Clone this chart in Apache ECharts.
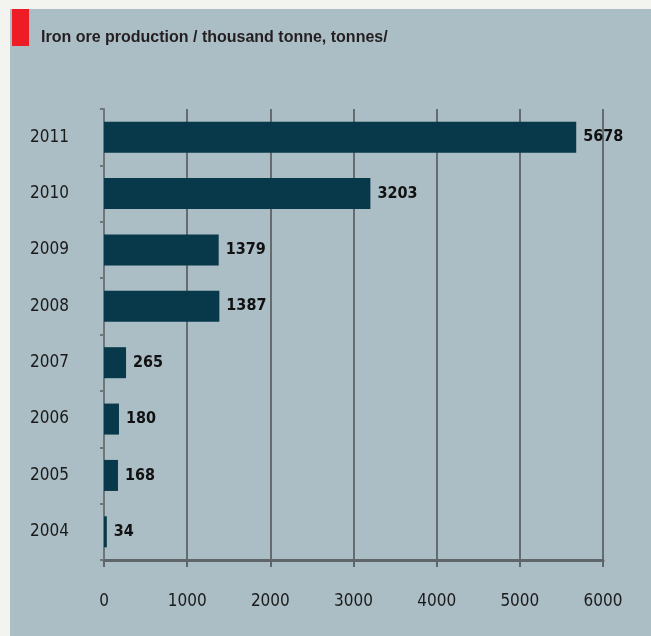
<!DOCTYPE html>
<html>
<head>
<meta charset="utf-8">
<script src="https://cdn.jsdelivr.net/npm/echarts@6/dist/echarts.min.js"></script>
<style>
html,body{margin:0;padding:0;background:#f3f3ef;}
#c{width:651px;height:636px;}
</style>
</head>
<body>
<div id="c"></div>
<script>
const titleText = 'Iron ore production / thousand tonne, tonnes/';
const years = ['2004','2005','2006','2007','2008','2009','2010','2011'];
const production = [34,168,180,265,1387,1379,3203,5678];
const xTicks = {min:0, max:6000, interval:1000};

const chart = echarts.init(document.getElementById('c'), null, {renderer:'canvas'});
const narrow = '"DejaVu Sans Condensed", "Liberation Sans Narrow", sans-serif';
chart.setOption({
  backgroundColor:'#f3f3ef',
  animation:false,
  graphic:[
    {type:'rect', z:-10, shape:{x:10,y:9,width:641,height:627}, style:{fill:'#abbdc5'}},
    {type:'rect', z:1, shape:{x:12,y:9,width:17,height:37}, style:{fill:'#ee1c25'}},
    {type:'text', z:1, x:41, y:38, style:{text:titleText, fill:'#231f20', font:'bold 16px "Liberation Sans", Arial, sans-serif', verticalAlign:'middle'}}
  ],
  grid:{left:104, right:48, top:109, bottom:76, containLabel:false},
  xAxis:{
    type:'value', min:xTicks.min, max:xTicks.max, interval:xTicks.interval,
    axisLine:{show:true, lineStyle:{color:'#5e666a', width:3}},
    axisTick:{show:true, length:7, lineStyle:{color:'#5e666a', width:2}},
    splitLine:{show:true, lineStyle:{color:'#646c70', width:2}},
    axisLabel:{margin:33, color:'#1a1a1a', fontFamily:narrow, fontSize:17, formatter:v => String(v)}
  },
  yAxis:{
    type:'category', data:years,
    axisLine:{show:true, lineStyle:{color:'#6f777a', width:2}},
    axisTick:{show:true, length:4, lineStyle:{color:'#6f777a', width:2}},
    axisLabel:{margin:35, color:'#1a1a1a', fontFamily:narrow, fontSize:17}
  },
  series:[{
    type:'bar', data:production, barCategoryGap:'45%',
    itemStyle:{color:'#07394a'},
    label:{show:true, position:'right', distance:7, color:'#111', fontFamily:narrow, fontWeight:'bold', fontSize:16, formatter:p => String(p.value)}
  }]
});
</script>
</body>
</html>
